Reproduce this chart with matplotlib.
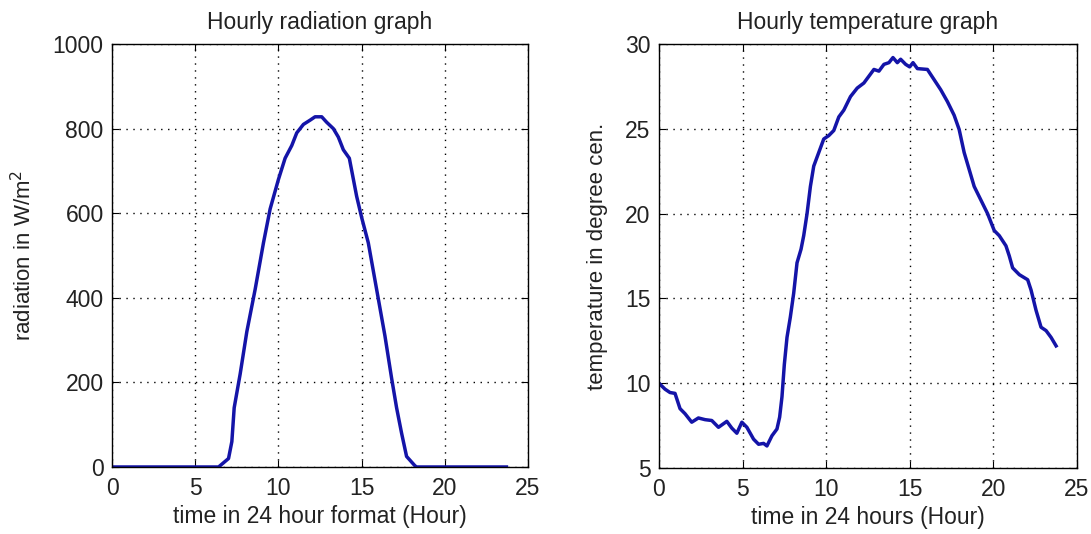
import numpy as np
import matplotlib.pyplot as plt

plt.rcParams['font.family'] = ['Liberation Sans', 'DejaVu Sans']

# radiation readings (hour, W/m^2)
rad_hour = [0, 1, 2, 3, 4, 5, 6, 6.4, 7.0, 7.2, 7.34, 7.7, 8.1, 8.6, 9.1, 9.5,
            10.0, 10.4, 10.8, 11.1, 11.5, 11.9, 12.2, 12.6, 12.9, 13.3, 13.6,
            13.9, 14.26, 14.7, 15.0, 15.4, 15.9, 16.4, 16.8, 17.1, 17.4, 17.7,
            18.2, 18.3, 19, 20, 21, 22, 23, 23.7]
rad_value = [0, 0, 0, 0, 0, 0, 0, 0, 20, 60, 140, 220, 320, 420, 530, 610,
             680, 730, 760, 790, 810, 820, 828, 828, 815, 800, 780,
             750, 730, 640, 590, 530, 420, 310, 210, 140, 80, 25,
             3, 0, 0, 0, 0, 0, 0, 0]

# temperature readings (hour, deg C)
temp_hour = [0, 0.36, 0.66, 0.96, 1.06, 1.26, 1.56, 1.96, 2.36, 2.76, 3.16,
             3.56, 4.06, 4.36, 4.66, 4.96, 5.26, 5.66, 5.96, 6.26, 6.46, 6.76,
             7.06, 7.22, 7.36, 7.5, 7.66, 7.86, 8.06, 8.26, 8.5, 8.66, 8.86,
             9.06, 9.26, 9.56, 9.86, 10.16, 10.46, 10.76, 11.06, 11.46, 11.86,
             12.26, 12.56, 12.86, 13.16, 13.46, 13.76, 14.0, 14.26, 14.46,
             14.76, 15.0, 15.2, 15.46, 16.06, 16.46, 16.86, 17.26, 17.66,
             17.96, 18.26, 18.56, 18.86, 19.26, 19.66, 20.06, 20.36, 20.76,
             20.96, 21.16, 21.56, 22.06, 22.26, 22.56, 22.86, 23.16, 23.46,
             23.76]
temp_value = [10.0, 9.65, 9.45, 9.4, 9.1, 8.5, 8.2, 7.7, 7.95, 7.85, 7.8,
              7.4, 7.75, 7.35, 7.05, 7.7, 7.4, 6.7, 6.4, 6.45, 6.3, 6.9,
              7.3, 8.0, 9.2, 11.1, 12.7, 13.9, 15.3, 17.1, 17.9, 18.7, 20.0,
              21.6, 22.8, 23.6, 24.4, 24.6, 24.9, 25.7, 26.1, 26.9, 27.4,
              27.7, 28.1, 28.5, 28.4, 28.8, 28.9, 29.2, 28.9, 29.1,
              28.8, 28.65, 28.9, 28.55, 28.5, 27.9, 27.3, 26.6, 25.8,
              24.96, 23.6, 22.6, 21.6, 20.8, 20.0, 19.0, 18.7, 18.1,
              17.5, 16.8, 16.4, 16.1, 15.5, 14.3, 13.3, 13.1, 12.7,
              12.2]

line_color = '#1414a8'
text_color = '#222222'


def style_axes(ax):
    ax.grid(True, color='black', linestyle=(0, (1, 4)), linewidth=1.0)
    ax.tick_params(direction='in', top=True, right=True, length=5,
                   labelsize=16.5, width=0.8, labelcolor=text_color)
    ax.tick_params(axis='x', pad=7)
    ax.tick_params(axis='y', pad=6)
    for sp in ax.spines.values():
        sp.set_linewidth(1.0)


fig = plt.figure(figsize=(10.91, 5.34), dpi=100)

ax1 = fig.add_axes([0.1027, 0.1255, 0.3813, 0.792])
ax1.plot(rad_hour, rad_value, color=line_color, linewidth=2.5)
ax1.set_xlim(0, 25)
ax1.set_ylim(0, 1000)
ax1.set_xticks([0, 5, 10, 15, 20, 25])
ax1.set_yticks([0, 200, 400, 600, 800, 1000])
ax1.set_title('Hourly radiation graph', fontsize=16.5, pad=11, color=text_color)
ax1.set_xlabel('time in 24 hour format (Hour)', fontsize=16.5, labelpad=4,
               color=text_color)
ax1.set_ylabel('radiation in W/m$^2$', fontsize=16, labelpad=12,
               color=text_color)
style_axes(ax1)

ax2 = fig.add_axes([0.604, 0.1236, 0.383, 0.794])
ax2.plot(temp_hour, temp_value, color=line_color, linewidth=2.5)
ax2.set_xlim(0, 25)
ax2.set_ylim(5, 30)
ax2.set_xticks([0, 5, 10, 15, 20, 25])
ax2.set_yticks([5, 10, 15, 20, 25, 30])
ax2.set_title('Hourly temperature graph', fontsize=16.5, pad=11, color=text_color)
ax2.set_xlabel('time in 24 hours (Hour)', fontsize=16.5, labelpad=4,
               color=text_color)
ax2.set_ylabel('temperature in degree cen.', fontsize=16, labelpad=12,
               color=text_color)
style_axes(ax2)

fig.savefig('out.png', dpi=100)
